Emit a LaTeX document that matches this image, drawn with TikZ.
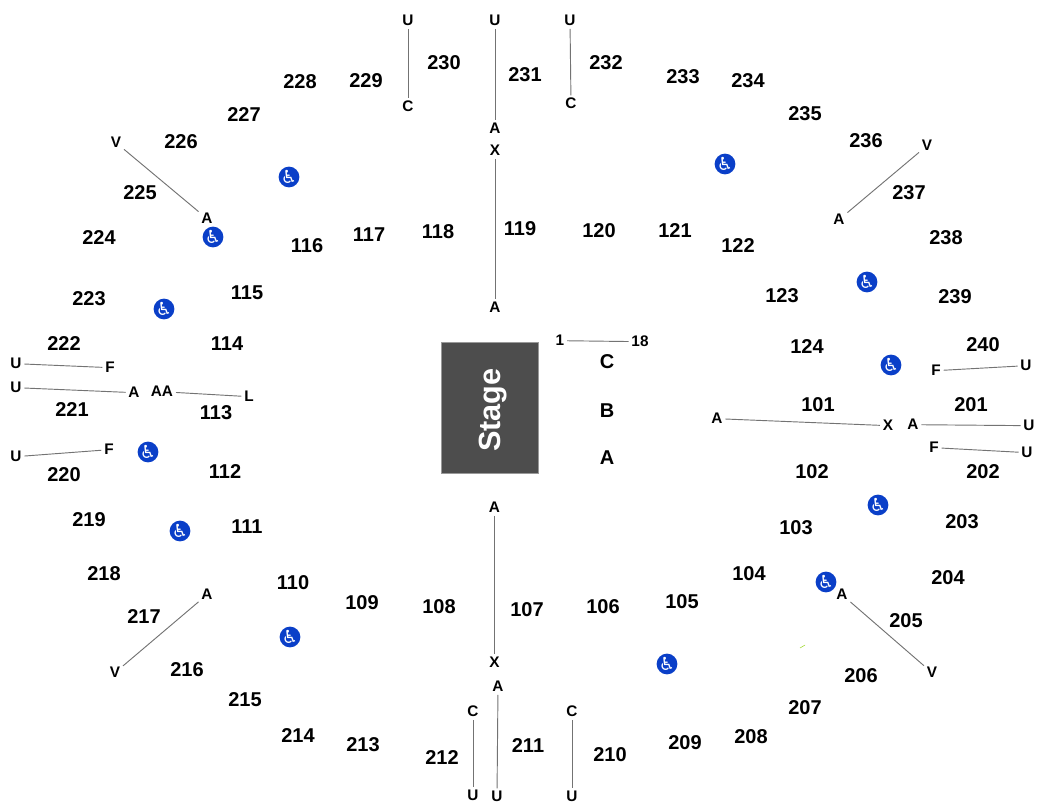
\documentclass[tikz,border=0pt]{standalone}
\usepackage{fontspec}
\setmainfont{Liberation Sans}
\newfontfamily\wheelfont{DejaVu Sans}
\definecolor{stagegray}{HTML}{4D4D4D}
\definecolor{wheelblue}{HTML}{0A3FC8}
\tikzset{
  sec/.style={font=\bfseries\fontsize{15}{15}\selectfont, inner sep=0pt, yshift=-.75pt},
  rowlab/.style={font=\bfseries\fontsize{11.5}{12}\selectfont, inner sep=2pt, yshift=-.5pt},
  rowbig/.style={font=\bfseries\fontsize{15}{15}\selectfont, inner sep=0pt, yshift=-.75pt},
  aisle/.style={draw=black!55, line width=.7pt},
  wheel/.style={circle, fill=wheelblue, text=white, minimum size=15.5pt, inner sep=0pt, font=\wheelfont\fontsize{13.5}{14}\selectfont},
  stagebox/.style={fill=stagegray, draw=black!40, line width=.3pt, minimum width=72.75pt, minimum height=98.25pt, inner sep=0pt}
}
\begin{document}
\begin{tikzpicture}[x=.75pt, y=-.75pt]
\useasboundingbox (0,0) rectangle (1050,810);
% sections, upper ring
\foreach \n/\x/\y in {201/971/404, 202/983/471, 203/962/521, 204/948/577, 205/906/620,
  206/861/675, 207/805/707, 208/751/736, 209/685/742, 210/610/754, 211/528/745,
  212/442/757, 213/363/744, 214/298/735, 215/245/699, 216/187/669, 217/144/616,
  218/104/573, 219/89/519, 220/64/474, 221/72/409, 222/64/343, 223/89/298, 224/99/237,
  225/140/192, 226/181/141, 227/244/114, 228/300/81, 229/366/80, 230/444/62, 231/525/74,
  232/606/62, 233/683/76, 234/748/80, 235/805/113, 236/866/140, 237/909/192, 238/946/237,
  239/955/296, 240/983/344}
  \node[sec] (s\n) at (\x,\y) {\n};
% sections, lower ring
\foreach \n/\x/\y in {101/818/404, 102/812/471, 103/796/527, 104/749/573, 105/682/601,
  106/603/606, 107/527/609, 108/439/606, 109/362/602, 110/293/582, 111/247/526,
  112/225/471, 113/216/412, 114/227/343, 115/247/292, 116/307/245, 117/369/234,
  118/438/231, 119/520/228, 120/599/230, 121/675/230, 122/738/245, 123/782/295, 124/807/346}
  \node[sec] (s\n) at (\x,\y) {\n};
% stage
\node[stagebox] (stage) at (489.5,407.5) {};
\node[rotate=90, text=white, font=\bfseries\fontsize{23}{23}\selectfont, inner sep=0pt] (stagelab) at (493,410) {Stage};
\node[rowbig] (rowC) at (607,361) {C};
\node[rowbig] (rowB) at (607,410) {B};
\node[rowbig] (rowA) at (607,457) {A};
% row labels with the line between them
\foreach \i/\p/\xa/\ya/\q/\xb/\yb in {
  1/U/408/20/C/408/106, 2/U/495/20/A/495/128, 3/X/495/150/A/495/307, 4/U/570/20/C/571/103,
  5/V/116/142/A/207/218, 6/V/927/145/A/839/219, 7/U/16/363/F/110/367, 8/U/16/387/A/134/392,
  9/AA/162/391/L/249/396, 10/U/16/456/F/109/449, 11/1/560/340/18/640/341,
  12/A/717/418/X/888/425, 13/A/913/424/U/1029/425, 14/F/936/370/U/1026/365,
  15/F/934/447/U/1027/452, 16/A/494.5/507/X/494.5/662, 17/A/498/686/U/497/796,
  18/C/473/711/U/473/795, 19/C/572/711/U/572/796, 20/A/207/594/V/115/672,
  21/A/842/594/V/932/672}
{
  \node[rowlab] (p\i) at (\xa,\ya) {\p};
  \node[rowlab] (q\i) at (\xb,\yb) {\q};
  \draw[aisle] (p\i) -- (q\i);
}
% wheelchair spots
\foreach \i/\x/\y in {1/289/177, 2/213/237, 3/164/309, 4/148/452, 5/180/531, 6/290/637,
  7/725/164, 8/867/282, 9/891/365, 10/878/505, 11/826/582, 12/667/664}
  \node[wheel] (w\i) at (\x,\y) {♿};
\coordinate (specka) at (800,648);
\coordinate (speckb) at (805,645);
\draw[yellow!60!green, line width=.4pt] (specka) -- (speckb);
\end{tikzpicture}
\end{document}
